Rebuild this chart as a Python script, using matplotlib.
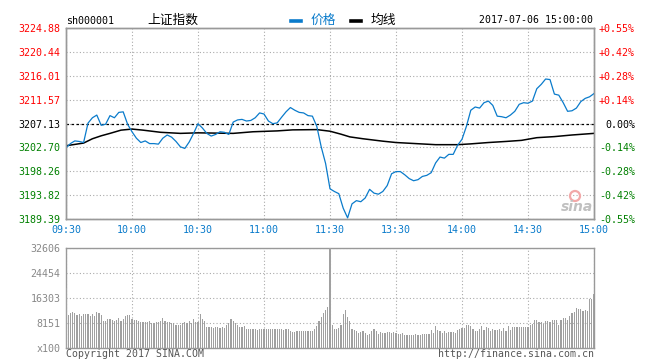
import matplotlib.pyplot as plt
from matplotlib.lines import Line2D
from matplotlib.patches import Circle
import numpy as np

# ---- data ----
prev_close = 3207.13
price_ticks = [3189.39, 3193.82, 3198.26, 3202.70, 3207.13, 3211.57, 3216.01, 3220.44, 3224.88]
pct_labels = ["-0.55%", "-0.42%", "-0.28%", "-0.14%", "0.00%", "+0.14%", "+0.28%", "+0.42%", "+0.55%"]
time_labels = ["09:30", "10:00", "10:30", "11:00", "11:30", "13:30", "14:00", "14:30", "15:00"]
vol_ticks = [0, 8151, 16303, 24454, 32606]
vol_labels = ["x100", "8151", "16303", "24454", "32606"]

# price every 2 trading minutes (09:30 -> 15:00)
price = [
    3202.6, 3203.4, 3203.9, 3203.8, 3203.6, 3207.2, 3208.2, 3208.7, 3206.8, 3207.0,
    3208.6, 3208.2, 3209.2, 3209.3, 3207.0, 3205.6, 3204.4, 3203.6, 3203.9, 3203.4,
    3203.4, 3203.3, 3204.4, 3205.0, 3204.6, 3203.8, 3202.8, 3202.5, 3203.7, 3205.3,
    3207.1, 3206.3, 3205.3, 3204.8, 3205.1, 3205.6, 3205.5, 3205.1, 3207.4, 3207.8,
    3207.9, 3207.6, 3207.7, 3208.2, 3209.1, 3208.9, 3207.6, 3207.1, 3207.25, 3208.3,
    3209.3, 3210.1, 3209.6, 3209.2, 3209.1, 3208.6, 3208.5, 3206.6, 3202.8, 3199.7,
    3195.0, 3194.5, 3194.1, 3191.4, 3189.6, 3192.2, 3192.8, 3192.6, 3193.3, 3194.9,
    3194.2, 3194.0, 3194.5, 3195.6, 3197.8, 3198.2, 3198.2, 3197.6, 3196.9, 3196.5,
    3196.7, 3197.3, 3197.5, 3198.0, 3199.8, 3200.9, 3200.7, 3201.4, 3201.4, 3203.1,
    3204.2, 3206.6, 3209.6, 3210.2, 3210.0, 3211.0, 3211.3, 3210.5, 3208.5, 3208.4,
    3208.2, 3208.7, 3209.4, 3210.7, 3211.0, 3210.9, 3211.3, 3213.6, 3214.4, 3215.4,
    3215.3, 3212.6, 3212.4, 3211.0, 3209.4, 3209.5, 3210.0, 3211.2, 3211.8, 3212.1,
    3212.7,
]

# average line (均线) at a few minutes
avg_minutes = [0, 8, 12, 16, 20, 25, 30, 35, 43, 52,
               60, 76, 85, 96, 103, 114, 120, 125, 129, 135,
               144, 150, 159, 168, 178, 184, 192, 200, 207, 214,
               222, 230, 240]
avg_line = [3203.0, 3203.5, 3204.3, 3204.85, 3205.3, 3205.9, 3206.1, 3205.9, 3205.5, 3205.3,
            3205.4, 3205.3, 3205.6, 3205.76, 3205.95, 3206.0, 3205.7, 3205.15, 3204.65, 3204.3,
            3203.85, 3203.6, 3203.4, 3203.2, 3203.2, 3203.35, 3203.6, 3203.8, 3204.0, 3204.5,
            3204.7, 3205.0, 3205.3]

# volume per minute (x100 shares)
volume = [
    19600, 10900, 11400, 11800, 11400, 10600, 11200, 10500, 11000, 11200,
    11000, 10500, 11200, 10500, 11600, 11400, 10900, 8700, 8900, 9500,
    9600, 9100, 8700, 9200, 9800, 8900, 9500, 10400, 10600, 10900,
    9600, 9200, 9200, 8700, 8400, 8400, 8500, 8400, 8700, 8200,
    8200, 8400, 8400, 8700, 9800, 8700, 8400, 8400, 8200, 8200,
    7400, 7600, 7400, 8200, 8400, 8200, 8700, 8200, 9600, 8400,
    8600, 11200, 9400, 8700, 7000, 6800, 6800, 6500, 6800, 7000,
    6500, 6800, 6500, 7400, 8200, 9500, 8700, 8200, 7600, 6900,
    6900, 7200, 6300, 6300, 6100, 6100, 6300, 6000, 6300, 6100,
    6300, 6300, 6300, 6100, 6300, 6100, 6300, 6300, 6100, 5900,
    6300, 6100, 5400, 5100, 5100, 5400, 5400, 5400, 5600, 5400,
    5400, 5400, 5400, 6300, 7200, 8700, 10100, 11400, 12500, 13400,
    32606,
    7600, 6300, 6300, 6600, 7600, 11200, 12500, 10100, 8700, 6300,
    6000, 5400, 4900, 5100, 5400, 4900, 4300, 4600, 5400, 6200,
    5600, 4500, 5100, 4900, 4900, 5100, 5100, 4900, 5100, 4900,
    4600, 4500, 4900, 4200, 4200, 4200, 4200, 4200, 4500, 4200,
    4200, 4500, 4500, 4500, 4600, 6000, 4900, 7300, 6000, 5400,
    4900, 5400, 4900, 5100, 5100, 5100, 4900, 5800, 6200, 6400,
    6400, 7600, 7400, 7100, 6200, 5600, 5600, 6200, 7300, 6000,
    6800, 6400, 5600, 6200, 6000, 6000, 6200, 5600, 6400, 5600,
    7300, 6000, 6900, 6800, 6800, 6800, 6800, 6800, 6800, 6800,
    7600, 7900, 9000, 9000, 8400, 8400, 7900, 8700, 8700, 8600,
    9000, 9000, 9000, 7600, 9000, 9800, 9800, 9000, 10500, 11400,
    11600, 13100, 12700, 12700, 12200, 12400, 12000, 15900, 16000, 17700,
]

# ---- style ----
W, H = 662, 360
MONO = "DejaVu Sans Mono"
CJK = ["Noto Sans CJK SC", "DejaVu Sans"]
BLUE = "#0a7bcb"
RED = "#ff0000"
GREEN = "#008000"
FRAME = "#999999"
GRID = "#aaaaaa"


def box(x0, y0, x1, y1):
    return [x0 / W, 1 - y1 / H, (x1 - x0) / W, (y1 - y0) / H]


def fx(x):
    return x / W


def fy(y):
    return 1 - y / H


def frame(a):
    for s in a.spines.values():
        s.set_color(FRAME)
        s.set_linewidth(1.0)
    a.tick_params(length=0)


fig = plt.figure(figsize=(W / 100, H / 100), dpi=100)
fig.patch.set_facecolor("white")

# ---- price panel ----
ax = fig.add_axes(box(66, 28, 594, 219))
minutes_price = np.arange(0, 241, 2)
ax.plot(avg_minutes, avg_line, color="black", lw=1.1, zorder=3)
ax.plot(minutes_price, price, color=BLUE, lw=0.9, zorder=4)
ax.axhline(prev_close, color="black", lw=0.9, linestyle=(0, (2, 2)), zorder=2)
ax.set_xlim(0, 240)
ax.set_ylim(price_ticks[0], price_ticks[-1])
ax.set_xticks(np.arange(0, 241, 30))
ax.set_xticklabels(time_labels, fontfamily=MONO, fontsize=7.2, color=BLUE)
ax.set_yticks(price_ticks)
ax.set_yticklabels([f"{v:.2f}" for v in price_ticks], fontfamily=MONO, fontsize=7.2)
for lab, v in zip(ax.get_yticklabels(), price_ticks):
    lab.set_color(RED if v > prev_close + 0.01 else (GREEN if v < prev_close - 0.01 else "black"))
ax.grid(True, color=GRID, linestyle=(0, (1, 2)), linewidth=0.8)
frame(ax)
ax.tick_params(axis="y", pad=4)
ax.tick_params(axis="x", pad=4)

ax2 = ax.twinx()
ax2.set_ylim(ax.get_ylim())
ax2.set_yticks(price_ticks)
ax2.set_yticklabels(pct_labels, fontfamily=MONO, fontsize=7.2, ha="right")
for lab, t in zip(ax2.get_yticklabels(), pct_labels):
    lab.set_color(RED if t.startswith("+") else (GREEN if t.startswith("-") else "black"))
frame(ax2)
ax2.tick_params(axis="y", pad=29.5)

# ---- volume panel ----
axv = fig.add_axes(box(66, 248, 594, 348))
axv.bar(np.arange(len(volume)), volume, width=0.55, color="#a0a0a0", linewidth=0, zorder=3)
axv.set_xlim(0, 240)
axv.set_ylim(0, vol_ticks[-1])
axv.set_xticks(np.arange(0, 241, 30))
axv.set_xticklabels([])
axv.set_yticks(vol_ticks)
axv.set_yticklabels(vol_labels, fontfamily=MONO, fontsize=7.2, color="#888888")
axv.grid(True, color=GRID, linestyle=(0, (1, 2)), linewidth=0.8, zorder=1)
axv.set_axisbelow(True)
frame(axv)
axv.tick_params(axis="y", pad=4)

# ---- header ----
fig.text(fx(66), fy(20.5), "sh000001", fontfamily=MONO, fontsize=7.2, va="center", ha="left")
fig.text(fx(147), fy(20.5), "上证指数", family=CJK, fontsize=9.2, va="center", ha="left")
fig.add_artist(Line2D([fx(291), fx(301)], [fy(20.5)] * 2, color=BLUE, lw=2.6,
                      transform=fig.transFigure))
fig.text(fx(311), fy(20.5), "价格", family=CJK, fontsize=9.2, color=BLUE, va="center", ha="left")
fig.add_artist(Line2D([fx(351), fx(361)], [fy(20.5)] * 2, color="black", lw=2.6,
                      transform=fig.transFigure))
fig.text(fx(371), fy(20.5), "均线", family=CJK, fontsize=9.2, va="center", ha="left")
fig.text(fx(593), fy(20), "2017-07-06 15:00:00", fontfamily=MONO, fontsize=7.1,
         va="center", ha="right")

# ---- footer ----
fig.text(fx(66), fy(354), "Copyright 2017 SINA.COM", fontfamily=MONO, fontsize=7.1,
         color="#555555", va="center", ha="left")
fig.text(fx(594), fy(354), "http://finance.sina.com.cn", fontfamily=MONO, fontsize=7.1,
         color="#555555", va="center", ha="right")

# ---- sina watermark ----
fig.text(fx(577), fy(207), "sina", fontsize=10, fontweight="bold", fontstyle="italic",
         color="#c0c0c0", va="center", ha="center")
fig.add_artist(Circle((575 / 100, (H - 196) / 100), 0.05, transform=fig.dpi_scale_trans,
                      fill=False, ec="#f2a8a8", lw=1.6))

fig.savefig("out.png", dpi=100)
